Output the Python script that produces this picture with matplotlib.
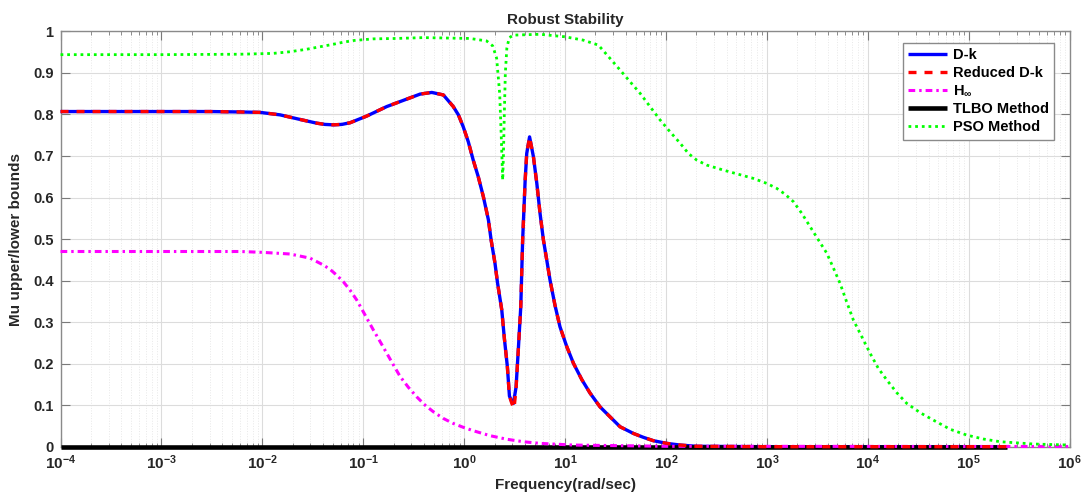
import matplotlib
matplotlib.use("Agg")
import matplotlib.pyplot as plt
from matplotlib.ticker import FixedLocator, LogLocator, NullFormatter

plt.rcParams['font.family'] = ['Liberation Sans', 'DejaVu Sans']
plt.rcParams['font.weight'] = 'bold'
plt.rcParams['mathtext.fontset'] = 'custom'
plt.rcParams['mathtext.rm'] = 'Liberation Sans:bold'
plt.rcParams['mathtext.bf'] = 'Liberation Sans:bold'
plt.rcParams['mathtext.it'] = 'Liberation Sans:bold'

# D-k controller
dk_freq = [1e-4, 1e-3, 3e-3, 0.006, 0.0095, 0.015, 0.0236, 0.0346, 0.0418, 0.0506,
           0.0612, 0.074, 0.108, 0.171, 0.27, 0.366, 0.478, 0.622, 0.78, 0.877,
           0.98, 1.10, 1.23, 1.38, 1.55, 1.74, 1.85, 2.02, 2.14, 2.36,
           2.5, 2.68, 2.81, 2.97, 3.08, 3.27, 3.44, 3.64, 3.8, 4.02,
           4.17, 4.45, 4.86, 5.25, 5.65, 6.1, 6.58, 7.1, 7.94, 8.9,
           10.4, 12.1, 14.7, 17.7, 22.2, 27.9, 35.1, 47.5, 59.7, 75,
           102, 138, 200, 1e3, 2.4e5]
dk_mu = [0.807, 0.807, 0.807, 0.806, 0.805, 0.799, 0.788, 0.779, 0.776, 0.775,
         0.776, 0.780, 0.796, 0.819, 0.837, 0.849, 0.853, 0.847, 0.819, 0.799,
         0.770, 0.734, 0.690, 0.650, 0.602, 0.546, 0.498, 0.442, 0.395, 0.329,
         0.262, 0.193, 0.122, 0.108, 0.104, 0.144, 0.233, 0.337, 0.498, 0.640,
         0.706, 0.746, 0.698, 0.634, 0.562, 0.498, 0.450, 0.401, 0.341, 0.289,
         0.241, 0.201, 0.161, 0.129, 0.096, 0.072, 0.048, 0.032, 0.0226, 0.0145,
         0.008, 0.004, 0.001, 0.0, 0.0]

# Reduced-order D-k controller
rdk_freq = [1e-4, 1e-3, 3e-3, 0.006, 0.0095, 0.015, 0.0236, 0.0346, 0.0418, 0.0506,
            0.0612, 0.074, 0.108, 0.171, 0.27, 0.366, 0.478, 0.622, 0.78, 0.877,
            0.98, 1.10, 1.23, 1.38, 1.55, 1.74, 1.85, 2.02, 2.14, 2.36,
            2.5, 2.68, 2.81, 2.97, 3.12, 3.27, 3.44, 3.64, 3.8, 4.02,
            4.17, 4.45, 4.86, 5.25, 5.65, 6.1, 6.58, 7.1, 7.94, 8.9,
            10.4, 12.1, 14.7, 17.7, 22.2, 27.9, 35.1, 47.5, 59.7, 75,
            102, 138, 200, 1e3, 2.4e5]
rdk_mu = [0.807, 0.807, 0.807, 0.806, 0.805, 0.799, 0.788, 0.779, 0.776, 0.775,
          0.776, 0.780, 0.796, 0.819, 0.837, 0.849, 0.853, 0.847, 0.819, 0.799,
          0.770, 0.734, 0.690, 0.650, 0.602, 0.546, 0.498, 0.442, 0.395, 0.329,
          0.262, 0.193, 0.122, 0.104, 0.092, 0.140, 0.233, 0.337, 0.498, 0.640,
          0.706, 0.746, 0.698, 0.634, 0.562, 0.498, 0.450, 0.401, 0.341, 0.289,
          0.241, 0.201, 0.161, 0.129, 0.096, 0.072, 0.048, 0.032, 0.0226, 0.0145,
          0.008, 0.004, 0.001, 0.0, 0.0]

# H-infinity controller
hinf_freq = [1e-4, 1e-3, 0.006, 0.01, 0.0188, 0.0297, 0.0402, 0.0469, 0.0546, 0.0635,
             0.074, 0.0863, 0.1, 0.126, 0.147, 0.171, 0.199, 0.232, 0.28, 0.339,
             0.41, 0.496, 0.622, 0.78, 0.98, 1.23, 1.81, 2.64, 3.86, 5.65,
             12, 100, 1e6]
hinf_mu = [0.470, 0.470, 0.470, 0.468, 0.464, 0.454, 0.4375, 0.427, 0.413, 0.397,
           0.377, 0.353, 0.325, 0.281, 0.253, 0.225, 0.197, 0.169, 0.143, 0.120,
           0.100, 0.084, 0.068, 0.056, 0.0467, 0.0385, 0.0265, 0.018, 0.012, 0.008,
           0.004, 0.001, 0.0005]

# TLBO-tuned controller
tlbo_freq = [1e-4, 2.4e5]
tlbo_mu = [0.0, 0.0]

# PSO-tuned controller
pso_freq = [1e-4, 1e-3, 0.006, 0.0128, 0.0188, 0.0275, 0.0373, 0.0506, 0.0635, 0.08,
            0.126, 0.215, 0.394, 1.14, 1.67, 1.92, 2.1, 2.25, 2.33, 2.41,
            2.45, 2.5, 2.56, 2.65, 2.8, 3.08, 5.65, 10, 15.1, 21.4,
            27.9, 35.1, 44, 55.4, 69.5, 87.3, 110, 138, 167, 202,
            254, 371, 522, 735, 998, 1253, 1514, 1833, 2218, 2680,
            3240, 3923, 4570, 5320, 6170, 7200, 8720, 10540, 12700, 15400,
            19400, 24300, 33000, 44700, 65500, 95700, 140000, 205000, 438000, 1e6]
pso_mu = [0.944, 0.944, 0.945, 0.947, 0.951, 0.957, 0.963, 0.969, 0.974, 0.978,
          0.982, 0.983, 0.985, 0.983, 0.977, 0.965, 0.935, 0.850, 0.750, 0.642,
          0.700, 0.800, 0.900, 0.960, 0.985, 0.991, 0.993, 0.987, 0.979, 0.967,
          0.935, 0.907, 0.879, 0.851, 0.819, 0.787, 0.758, 0.731, 0.706, 0.690,
          0.678, 0.666, 0.656, 0.646, 0.634, 0.622, 0.608, 0.590, 0.562, 0.530,
          0.498, 0.466, 0.430, 0.393, 0.349, 0.305, 0.265, 0.225, 0.189, 0.161,
          0.130, 0.1045, 0.082, 0.064, 0.042, 0.028, 0.0185, 0.012, 0.0065, 0.004]

y_ticks = [0, 0.1, 0.2, 0.3, 0.4, 0.5, 0.6, 0.7, 0.8, 0.9, 1]
y_tick_labels = ['0', '0.1', '0.2', '0.3', '0.4', '0.5', '0.6', '0.7', '0.8', '0.9', '1']
x_ticks = [1e-4, 1e-3, 1e-2, 1e-1, 1e0, 1e1, 1e2, 1e3, 1e4, 1e5, 1e6]
x_tick_labels = [r'$\mathbf{10^{-4}}$', r'$\mathbf{10^{-3}}$', r'$\mathbf{10^{-2}}$',
                 r'$\mathbf{10^{-1}}$', r'$\mathbf{10^{0}}$', r'$\mathbf{10^{1}}$',
                 r'$\mathbf{10^{2}}$', r'$\mathbf{10^{3}}$', r'$\mathbf{10^{4}}$',
                 r'$\mathbf{10^{5}}$', r'$\mathbf{10^{6}}$']

fig = plt.figure(figsize=(10.83, 4.99), dpi=100)
ax = fig.add_axes([0.0559, 0.1048, 0.9317, 0.8323])

ax.plot(dk_freq, dk_mu, color='#0000ff', lw=2.4, label='D-k', zorder=3, clip_on=False,
        solid_capstyle='butt')
ax.plot(tlbo_freq, tlbo_mu, color='black', lw=3.3, label='TLBO Method', zorder=4,
        solid_capstyle='butt', clip_on=False)
ax.plot(hinf_freq, hinf_mu, color='#ff00ff', lw=2.2, linestyle=(0, (2.2, 1.3, 0.8, 1.3)),
        label=r'H$_{\mathbf{\infty}}$', zorder=5, clip_on=False)
ax.plot(rdk_freq, rdk_mu, color='#ff0000', lw=2.4, linestyle=(0, (2.4, 2.4)),
        label='Reduced D-k', zorder=6, clip_on=False)
ax.plot(pso_freq, pso_mu, color='#00ff00', lw=2.0, linestyle=(0, (1.0, 1.4)),
        label='PSO Method', zorder=7, clip_on=False)

ax.set_xscale('log')
ax.set_xlim(1e-4, 1e6)
ax.set_ylim(0, 1)
ax.xaxis.set_major_locator(FixedLocator(x_ticks))
ax.set_xticklabels(x_tick_labels)
ax.xaxis.set_minor_locator(LogLocator(base=10, subs=range(2, 10), numticks=20))
ax.xaxis.set_minor_formatter(NullFormatter())
ax.set_yticks(y_ticks)
ax.set_yticklabels(y_tick_labels)

ax.grid(True, which='major', color='#dcdcdc', lw=0.8, linestyle='-', zorder=0)
ax.grid(True, which='minor', axis='x', color='#e8e8e8', lw=0.7, linestyle=':', zorder=0)
ax.set_axisbelow(True)

for s in ax.spines.values():
    s.set_color('#8a8a8a')
    s.set_linewidth(1.0)
ax.tick_params(which='both', direction='in', top=True, right=True,
               color='#7a7a7a', labelcolor='#262626')
ax.tick_params(which='major', length=6.5, width=0.8, pad=5)
ax.tick_params(axis='x', which='major', labelsize=11)
ax.tick_params(axis='y', which='major', labelsize=10.5)
ax.tick_params(which='minor', length=3.2, width=0.6)
for lab in ax.get_yticklabels():
    lab.set_fontweight('bold')

ax.set_title('Robust Stability', fontsize=11, fontweight='bold', color='#262626', pad=5)
ax.set_xlabel('Frequency(rad/sec)', fontsize=11, fontweight='bold', color='#262626', labelpad=4)
ax.set_ylabel('Mu upper/lower bounds', fontsize=11, fontweight='bold', color='#262626', labelpad=7)

handles, labels = ax.get_legend_handles_labels()
order = [labels.index(n) for n in ['D-k', 'Reduced D-k', r'H$_{\mathbf{\infty}}$',
                                   'TLBO Method', 'PSO Method']]
leg = ax.legend([handles[i] for i in order], [labels[i] for i in order],
                loc='upper right', bbox_to_anchor=(0.9847, 0.9728), borderaxespad=0,
                fancybox=False, framealpha=1, edgecolor='#8a8a8a',
                prop={'weight': 'bold', 'size': 10.5}, handlelength=2.7,
                handletextpad=0.4, labelspacing=0.28, borderpad=0.35)
leg.get_frame().set_linewidth(1.0)
leg.set_zorder(10)

fig.savefig('out.png', dpi=100)
